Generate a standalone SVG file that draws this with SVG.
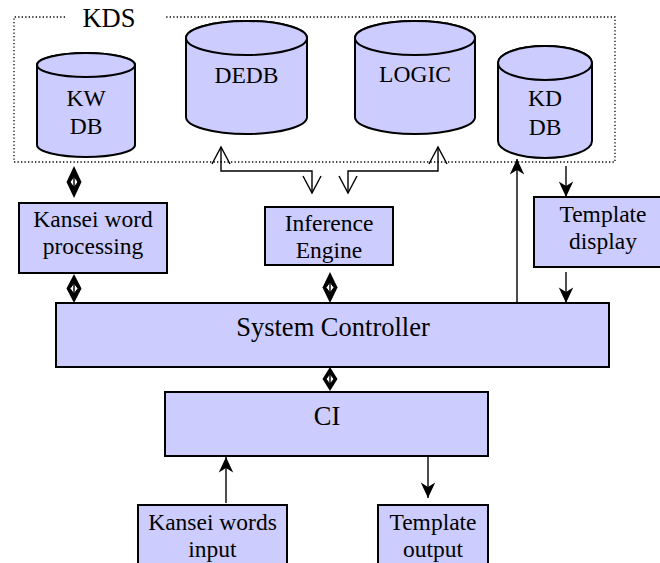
<svg xmlns="http://www.w3.org/2000/svg" width="660" height="563" viewBox="0 0 660 563">
<style>
.box{fill:#CCCCFF;stroke:#000;stroke-width:2}
text{font-family:'Liberation Serif','DejaVu Serif',serif;fill:#000;text-anchor:middle}
.t{font-size:23.5px}
.tb{font-size:26.5px}
.dot{fill:none;stroke:#000;stroke-width:1.3;stroke-dasharray:1.3,2.2}
.ln{fill:none;stroke:#000;stroke-width:1.4}
.kite{fill:#000}
.dia{fill:#fff;stroke:#000;stroke-width:1}
</style>
<defs>
<marker id="fa" markerUnits="userSpaceOnUse" markerWidth="20" markerHeight="20" viewBox="-16 -8 18 16" refX="0" refY="0" orient="auto-start-reverse">
<path d="M0,0 L-14,-6.5 L-10,0 L-14,6.5 Z" fill="#000"/>
</marker>
<marker id="va" markerUnits="userSpaceOnUse" markerWidth="22" markerHeight="22" viewBox="-18 -11 20 22" refX="0" refY="0" orient="auto-start-reverse">
<path d="M-17,-9 L0,0 L-17,9" fill="none" stroke="#000" stroke-width="1.4"/>
</marker>
</defs>

<g id="kds">
<path class="dot" d="M65,17 L14,17 L14,162 L615,162 L615,17 L165,17"/>
<text class="tb" x="109" y="27" font-family="Liberation Serif, serif">KDS</text>
</g>

<g id="kwdb">
<path class="box" d="M37,65 L37,145 A49,12 0 0 0 135,145 L135,65 A49,12 0 0 0 37,65 Z"/>
<ellipse class="box" cx="86" cy="65" rx="49" ry="12"/>
<text class="t" x="86" y="106">KW</text>
<text class="t" x="86" y="134">DB</text>
</g>

<g id="dedb">
<path class="box" d="M186,38 L186,117 A60.5,17 0 0 0 307,117 L307,38 A60.5,17 0 0 0 186,38 Z"/>
<ellipse class="box" cx="246.5" cy="38" rx="60.5" ry="17"/>
<text class="t" x="246.5" y="83">DEDB</text>
</g>

<g id="logic">
<path class="box" d="M355,38 L355,117 A60,17 0 0 0 475,117 L475,38 A60,17 0 0 0 355,38 Z"/>
<ellipse class="box" cx="415" cy="38" rx="60" ry="17"/>
<text class="t" x="415" y="82">LOGIC</text>
</g>

<g id="kddb">
<path class="box" d="M498,63 L498,141 A47,17 0 0 0 592,141 L592,63 A47,17 0 0 0 498,63 Z"/>
<ellipse class="box" cx="545" cy="63" rx="47" ry="17"/>
<text class="t" x="545" y="106">KD</text>
<text class="t" x="545" y="135">DB</text>
</g>

<g id="kwp">
<rect class="box" x="19" y="203" width="148" height="70"/>
<text class="t" x="93" y="227">Kansei word</text>
<text class="t" x="93" y="254">processing</text>
</g>

<g id="ie">
<rect class="box" x="265" y="207" width="128" height="58"/>
<text class="t" x="329" y="231">Inference</text>
<text class="t" x="329" y="258">Engine</text>
</g>

<g id="td">
<rect class="box" x="534" y="197" width="140" height="70"/>
<text class="t" x="603" y="222">Template</text>
<text class="t" x="603" y="249">display</text>
</g>

<g id="sc">
<rect class="box" x="56" y="303" width="553" height="64"/>
<text class="tb" x="333" y="336">System Controller</text>
</g>

<g id="ci">
<rect class="box" x="165" y="392" width="323" height="64"/>
<text class="tb" x="327" y="425">CI</text>
</g>

<g id="kwi">
<rect class="box" x="138" y="505" width="149" height="70"/>
<text class="t" x="212.5" y="530">Kansei words</text>
<text class="t" x="212.5" y="557">input</text>
</g>

<g id="to">
<rect class="box" x="378" y="505" width="110" height="70"/>
<text class="t" x="433" y="530">Template</text>
<text class="t" x="433" y="557">output</text>
</g>

<g id="connectors">
<path class="ln" d="M312,193 L312,171 L221,171 L221,147" marker-start="url(#va)" marker-end="url(#va)"/>
<path class="ln" d="M348,193 L348,171 L438,171 L438,147" marker-start="url(#va)" marker-end="url(#va)"/>
<path class="ln" d="M517,303 L517,159" marker-end="url(#fa)"/>
<path class="ln" d="M566,166 L566,197" marker-end="url(#fa)"/>
<path class="ln" d="M566,272 L566,303" marker-end="url(#fa)"/>
<path class="ln" d="M226,503 L226,457" marker-end="url(#fa)"/>
<path class="ln" d="M428,456 L428,498" marker-end="url(#fa)"/>
<path class="kite" d="M74,166 L81.5,182 L74,198 L66.5,182 Z"/>
<path class="dia" d="M74,176.5 L78,182 L74,187.5 L70,182 Z"/>
<path class="ln" d="M74,176 L74,188"/>
<path class="kite" d="M74,274 L81.5,288.5 L74,303 L66.5,288.5 Z"/>
<path class="dia" d="M74,283 L78,288.5 L74,294 L70,288.5 Z"/>
<path class="ln" d="M74,282.5 L74,294.5"/>
<path class="kite" d="M330,272 L337.5,287.5 L330,303 L322.5,287.5 Z"/>
<path class="dia" d="M330,282 L334,287.5 L330,293 L326,287.5 Z"/>
<path class="ln" d="M330,281.5 L330,293.5"/>
<path class="kite" d="M330,367 L337.5,379 L330,391 L322.5,379 Z"/>
<path class="dia" d="M330,374 L334,379 L330,384 L326,379 Z"/>
<path class="ln" d="M330,373.5 L330,384.5"/>
</g>
</svg>
